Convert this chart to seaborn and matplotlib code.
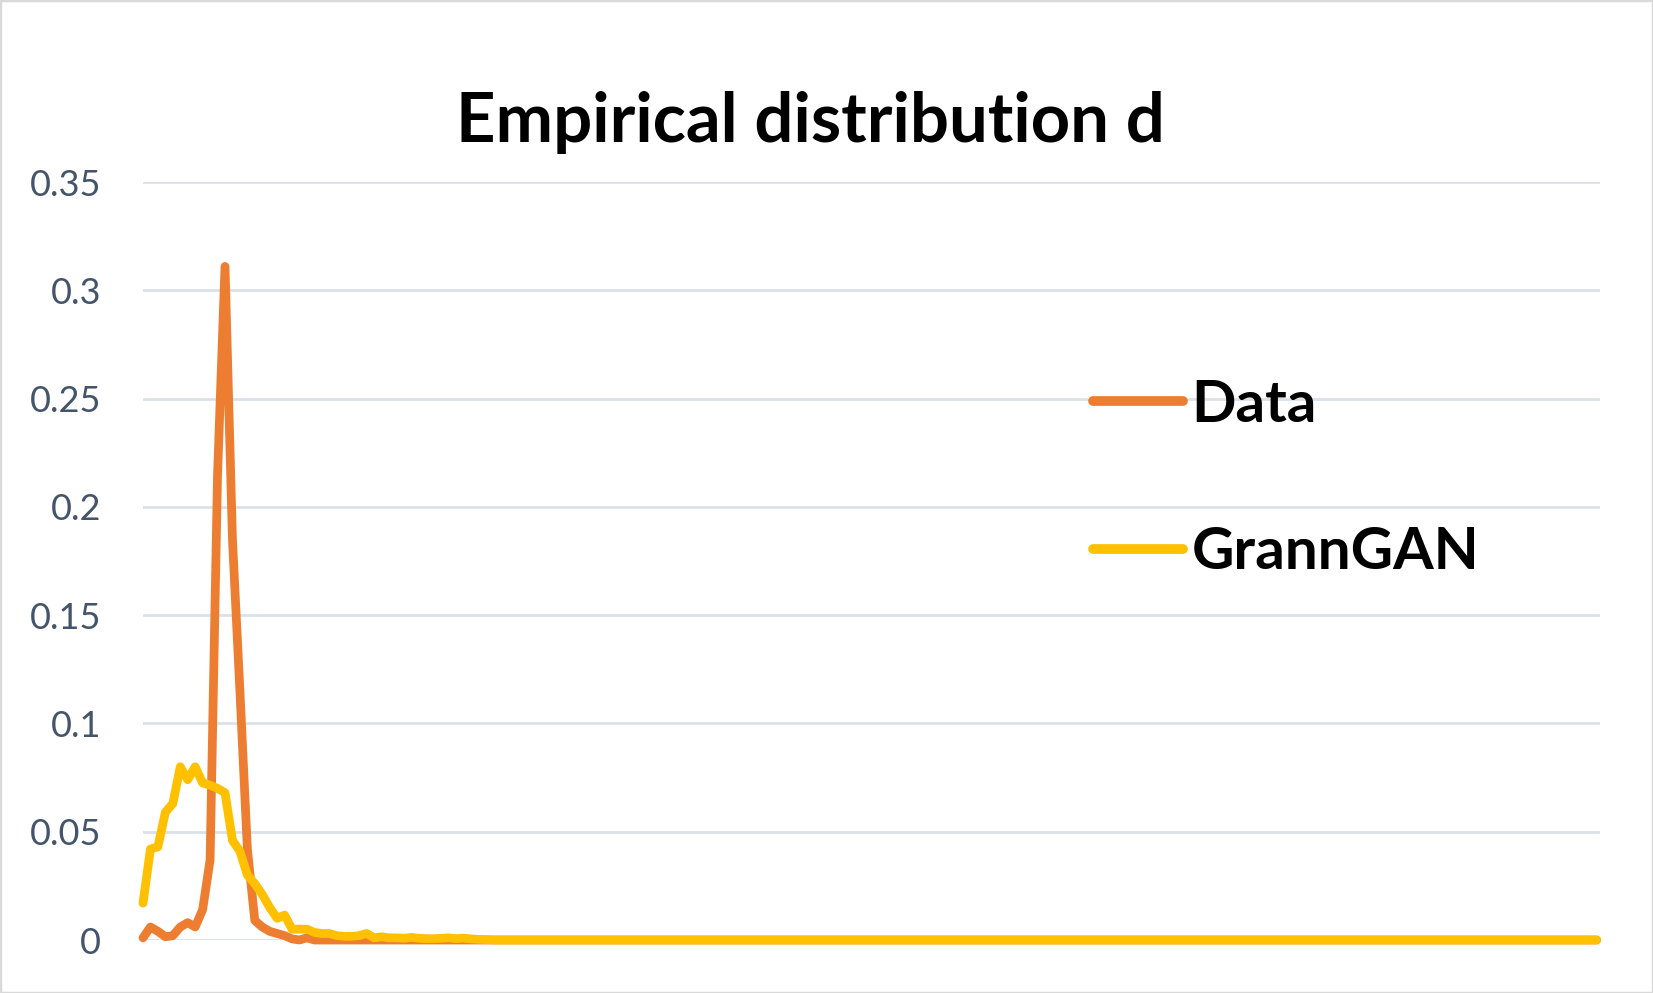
import numpy as np
import pandas as pd
import matplotlib
matplotlib.use("Agg")
import matplotlib.pyplot as plt
from matplotlib.patches import Rectangle
import seaborn as sns

# values, one per category (196 categories, most of them ~0)
data_head = [0.001, 0.006, 0.004, 0.0015, 0.002, 0.006, 0.008, 0.006, 0.014, 0.037,
             0.215, 0.311, 0.185, 0.115, 0.042, 0.009, 0.006, 0.004, 0.003, 0.002,
             0.0005, 0.0, 0.001, 0.0]
gan_head = [0.017, 0.042, 0.043, 0.059, 0.063, 0.080, 0.074, 0.080, 0.0725, 0.0715,
            0.070, 0.068, 0.046, 0.041, 0.030, 0.026, 0.021, 0.015, 0.010, 0.0115,
            0.005, 0.005, 0.005, 0.0035, 0.003, 0.003, 0.002, 0.0017, 0.0017, 0.002,
            0.003, 0.001, 0.0015, 0.001, 0.001, 0.0008, 0.0012, 0.0008, 0.0006, 0.0006,
            0.0008, 0.001, 0.0006, 0.0009, 0.0005, 0.0003, 0.0002]
n_points = 196
data_vals = data_head + [0.0] * (n_points - len(data_head))
gan_vals = gan_head + [0.0] * (n_points - len(gan_head))

series_names = ["Data", "GrannGAN"]
series_colors = ["#ED7D31", "#FFC000"]
y_ticks = [0, 0.05, 0.1, 0.15, 0.2, 0.25, 0.3, 0.35]
y_tick_labels = ["0", "0.05", "0.1", "0.15", "0.2", "0.25", "0.3", "0.35"]

df = pd.DataFrame({
    "x": list(range(n_points)) * 2,
    "value": data_vals + gan_vals,
    "series": [series_names[0]] * n_points + [series_names[1]] * n_points,
})

sns.set_theme(style="whitegrid")
plt.rcParams["font.family"] = ["Lato", "DejaVu Sans"]

W, H = 1653, 993
fig = plt.figure(figsize=(W / 100, H / 100), dpi=100)
left, right, top, bottom = 143, 1600, 182, 940
ax = fig.add_axes([left / W, (H - bottom) / H, (right - left) / W, (bottom - top) / H])

sns.lineplot(data=df, x="x", y="value", hue="series", palette=series_colors,
             hue_order=series_names, ax=ax)

ax.set_xlim(0, n_points - 1 + 0.45)
ax.set_ylim(0, 0.35)
ax.set_yticks(y_ticks)
ax.set_yticklabels(y_tick_labels)
ax.set_xticks([])
ax.set_xlabel("")
ax.set_ylabel("")
ax.grid(axis="y", color="#DCE1E8", linewidth=2)
ax.grid(axis="x", visible=False)
for s in ax.spines.values():
    s.set_visible(False)
ax.tick_params(axis="y", length=0, pad=30, labelsize=26, labelcolor="#44546A")
for ln in ax.get_lines():
    ln.set_linewidth(6.3)
    ln.set_solid_capstyle("round")
    ln.set_solid_joinstyle("round")
    ln.set_clip_on(False)

handles, labels = ax.get_legend_handles_labels()
leg = ax.legend(handles, labels, loc="center left", bbox_to_anchor=(0.652, 0.608),
                frameon=False, borderpad=0, borderaxespad=0, handlelength=1.55,
                handletextpad=0.14, labelspacing=1.62,
                prop={"family": ["Lato", "DejaVu Sans"], "weight": "bold", "size": 42})
for h in leg.get_lines():
    h.set_linewidth(7)
    h.set_solid_capstyle("round")
for t in leg.get_texts():
    t.set_color("black")

fig.text(810 / W, (H - 142) / H, "Empirical distribution d", ha="center", va="baseline",
         fontsize=49.5, fontweight="bold", color="black")

fig.patches.append(Rectangle((0, 0), 1, 1, transform=fig.transFigure, fill=False,
                             edgecolor="#D9D9D9", linewidth=2.5))

fig.savefig("out.png", dpi=100)
